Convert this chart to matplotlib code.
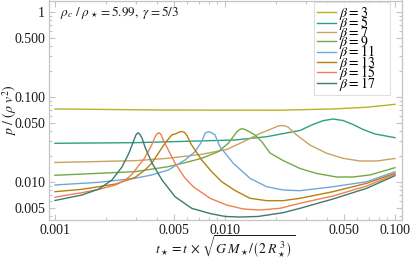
import matplotlib
matplotlib.use("Agg")
import matplotlib.pyplot as plt
from matplotlib.ticker import FixedLocator, FixedFormatter, NullFormatter

plt.rcParams['font.family'] = ['Liberation Serif', 'DejaVu Serif']
plt.rcParams['mathtext.fontset'] = 'stix'

# ---- data ----
betas = [3, 5, 7, 9, 11, 13, 15, 17]
colors = ['#b5b228', '#2ba083', '#c9a25e', '#70aa44', '#71a7dd', '#b7800f', '#f07f52', '#3c7a72']

t_b3 = [0.001, 0.004147, 0.02106, 0.04318, 0.06816, 0.1]
p_b3 = [0.0723, 0.0703, 0.0699, 0.0723, 0.0757, 0.0820]

t_b5 = [0.001, 0.002955, 0.007129, 0.01145, 0.01759, 0.02762, 0.03293, 0.03771, 0.04318,
        0.04945, 0.05662, 0.06484, 0.07627, 0.1]
p_b5 = [0.02853, 0.02901, 0.0304, 0.0312, 0.0341, 0.0404, 0.0475, 0.0526, 0.0551,
        0.0529, 0.0475, 0.0415, 0.0367, 0.0332]

t_b7 = [0.001, 0.002955, 0.004621, 0.007295, 0.01024, 0.01312, 0.01606, 0.01839, 0.01995,
        0.02078, 0.02164, 0.02254, 0.02347, 0.02642, 0.03162, 0.03965, 0.04945, 0.06224,
        0.07807, 0.1]
p_b7 = [0.01696, 0.01781, 0.0190, 0.02118, 0.02412, 0.0304, 0.0372, 0.0415, 0.0444,
        0.0458, 0.0462, 0.0456, 0.0444, 0.0357, 0.0272, 0.02176, 0.0190, 0.01766,
        0.01766, 0.0189]

t_b9 = [0.001, 0.001815, 0.002955, 0.004621, 0.005818, 0.007295, 0.009131, 0.01046, 0.01172,
        0.01213, 0.01259, 0.01312, 0.01366, 0.01502, 0.01651, 0.01839, 0.02194, 0.02762,
        0.03463, 0.04541, 0.05662, 0.07129, 0.1]
p_b9 = [0.01199, 0.01266, 0.01322, 0.01514, 0.01687, 0.0190, 0.02273, 0.02853, 0.0387,
        0.0411, 0.0424, 0.0415, 0.0398, 0.0357, 0.0296, 0.02195, 0.0179, 0.01441,
        0.01259, 0.01145, 0.01145, 0.0121, 0.01473]

t_b11 = [0.001, 0.001815, 0.002955, 0.003706, 0.004641, 0.005818, 0.006663, 0.007295, 0.007627,
         0.007978, 0.008353, 0.008737, 0.009346, 0.01119, 0.01403, 0.01759, 0.02203, 0.02762,
         0.04337, 0.06816, 0.1]
p_b11 = [0.00922, 0.00992, 0.01105, 0.01209, 0.01384, 0.01815, 0.02273, 0.0298, 0.0375,
         0.0391, 0.0380, 0.0357, 0.0260, 0.0166, 0.01105, 0.0088, 0.00805, 0.0079,
         0.0088, 0.01008, 0.01322]

t_b13 = [0.001, 0.001441, 0.002275, 0.002955, 0.003383, 0.003706, 0.004052, 0.004437, 0.004859,
         0.005185, 0.005328, 0.005565, 0.005779, 0.005978, 0.00631, 0.006663, 0.007295, 0.008353,
         0.009563, 0.01145, 0.01403, 0.01759, 0.02194, 0.02762, 0.04318, 0.06816, 0.1]
p_b13 = [0.00769, 0.0082, 0.00947, 0.0113, 0.01384, 0.0166, 0.02176, 0.02853, 0.0357,
         0.0372, 0.0385, 0.0393, 0.0383, 0.0352, 0.0280, 0.0238, 0.01815, 0.01322,
         0.01008, 0.00794, 0.00643, 0.00603, 0.00603, 0.00643, 0.00769, 0.00966, 0.01266]

t_b15 = [0.001, 0.001156, 0.001441, 0.001815, 0.002275, 0.002606, 0.002849, 0.00312, 0.003338,
         0.003706, 0.003875, 0.003981, 0.00409, 0.004203, 0.004335, 0.004641, 0.00508, 0.005818,
         0.006512, 0.008161, 0.01024, 0.01281, 0.01606, 0.02106, 0.02762, 0.04318, 0.06816, 0.1]
p_b15 = [0.00661, 0.00697, 0.00748, 0.0082, 0.00922, 0.0106, 0.0124, 0.0158, 0.01865,
         0.0272, 0.0338, 0.0367, 0.0380, 0.0362, 0.0312, 0.0238, 0.0167, 0.0111,
         0.0088, 0.00643, 0.00536, 0.00481, 0.00468, 0.0049, 0.00562, 0.00684, 0.00897, 0.01232]

t_b17 = [0.001, 0.001441, 0.001815, 0.002164, 0.002478, 0.002725, 0.002915, 0.002995, 0.003077,
         0.003162, 0.003249, 0.003383, 0.003721, 0.00426, 0.00508, 0.00637, 0.008161, 0.01,
         0.01225, 0.01563, 0.02194, 0.02762, 0.04318, 0.06816, 0.1]
p_b17 = [0.00606, 0.00703, 0.00827, 0.01057, 0.01501, 0.02195, 0.03119, 0.0358, 0.0380,
         0.0362, 0.0329, 0.02582, 0.01673, 0.01057, 0.00672, 0.0049, 0.00426, 0.00393,
         0.00387, 0.00393, 0.00435, 0.0049, 0.00631, 0.00843, 0.01186]

series_t = [t_b3, t_b5, t_b7, t_b9, t_b11, t_b13, t_b15, t_b17]
series_p = [p_b3, p_b5, p_b7, p_b9, p_b11, p_b13, p_b15, p_b17]

xticks = [0.001, 0.005, 0.01, 0.05, 0.1]
xticklabels = ['0.001', '0.005', '0.010', '0.050', '0.100']
yticks = [0.005, 0.01, 0.05, 0.1, 0.5, 1]
yticklabels = ['0.005', '0.010', '0.050', '0.100', '0.500', '1']

# ---- figure ----
W, H = 411, 261
fig = plt.figure(figsize=(W / 100, H / 100), dpi=100)
ax = fig.add_axes([49.3 / W, 1 - 219.5 / H, (401.7 - 49.3) / W, 219.0 / H])

for b, c, t, p in zip(betas, colors, series_t, series_p):
    ax.plot(t, p, color=c, lw=1.0, label=r'$\beta = %d$' % b,
            solid_joinstyle='round')

ax.set_xscale('log')
ax.set_yscale('log')
ax.set_xlim(0.000926, 0.1095)
ax.set_ylim(0.00362, 1.365)

frame_c = '#c4c4c4'
for s in ax.spines.values():
    s.set_color(frame_c)
    s.set_linewidth(0.9)

ax.xaxis.set_major_locator(FixedLocator(xticks))
ax.xaxis.set_major_formatter(FixedFormatter(xticklabels))
ax.yaxis.set_major_locator(FixedLocator(yticks))
ax.yaxis.set_major_formatter(FixedFormatter(yticklabels))
xminor = [m * 10.0 ** k for k in (-3, -2) for m in range(2, 10)]
yminor = [m * 10.0 ** k for k in (-3, -2, -1) for m in range(2, 10)]
ax.xaxis.set_minor_locator(FixedLocator([v for v in xminor if v not in xticks]))
ax.yaxis.set_minor_locator(FixedLocator([v for v in yminor if v not in yticks]))
ax.xaxis.set_minor_formatter(NullFormatter())
ax.yaxis.set_minor_formatter(NullFormatter())
ax.tick_params(which='both', direction='in', top=True, right=True, color=frame_c,
               labelsize=10, labelcolor='#1a1a1a', width=0.8)
ax.tick_params(which='major', length=4.5, pad=3)
ax.tick_params(which='minor', length=2.5)

ax.set_xlabel(r'$t_\star = t\,\times\,\sqrt{G\,M_\star/\left(2\,R_\star^{\;3}\right)}$',
              fontsize=10, color='#1a1a1a')
ax.xaxis.set_label_coords(0.5, -0.068)
ax.set_ylabel(r'$p\ /\ (\rho\ v^2)$', fontsize=10, color='#1a1a1a')
ax.yaxis.set_label_coords(-0.085, 0.5)

ax.text(0.03, 0.947, r'$\rho_c\ /\ \rho_\star = 5.99,\ \gamma = 5/3$', transform=ax.transAxes,
        fontsize=9.5, va='center', ha='left', color='#1a1a1a')

leg = ax.legend(loc='upper left', bbox_to_anchor=(0.751, 0.55, 0.216, 0.442),
                mode='expand', borderaxespad=0,
                fontsize=10, labelspacing=-0.55, handlelength=1.4, handletextpad=0.2,
                borderpad=0.2, frameon=True, fancybox=False)
leg.get_frame().set_edgecolor('#d8d8d8')
leg.get_frame().set_linewidth(0.8)

fig.savefig('out.png', dpi=100)
